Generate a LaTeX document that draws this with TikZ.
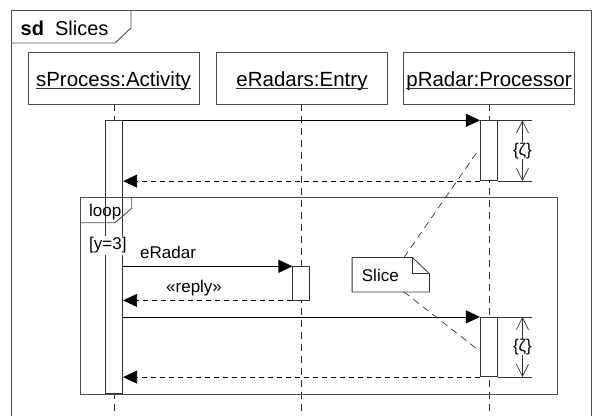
\documentclass[tikz,border=0pt]{standalone}
\usepackage{fontspec}
\setmainfont{Liberation Sans}
\usetikzlibrary{arrows.meta}

\tikzset{
  ink/.style={draw=black!80, line width=0.8pt},
  frame/.style={draw=black!70, line width=0.9pt},
  headbox/.style={frame, rectangle, minimum width=171pt, minimum height=52pt, inner sep=0pt},
  headtxt/.style={font=\fontsize{20.5pt}{24pt}\selectfont, inner sep=0pt, anchor=base},
  lbl/.style={font=\fontsize{17pt}{20pt}\selectfont, inner sep=0pt},
  lifeline/.style={draw=black!80, line width=0.8pt, dash pattern=on 7pt off 5pt},
  actbar/.style={ink, fill=white, rectangle, minimum width=17pt, inner sep=0pt},
  msg/.style={draw=black, line width=0.8pt, -{Triangle[length=14pt, width=13pt]}},
  reply/.style={msg, dash pattern=on 5pt off 4pt},
  notelink/.style={draw=black!80, line width=0.7pt, dash pattern=on 7pt off 5pt},
  span/.style={draw=black!80, line width=0.7pt, {Straight Barb[length=12pt,width=12pt]}-{Straight Barb[length=12pt,width=12pt]}},
  extline/.style={draw=black!80, line width=0.7pt}
}

\begin{document}
\begin{tikzpicture}[x=1pt, y=-1pt]
\useasboundingbox (0,0) rectangle (596,415);

% lifeline heads
\node[headbox] (h1) at (113.5,78) {};
\node[headbox] (h2) at (302,78) {};
\node[headbox] (h3) at (489,78) {};
\node[headtxt] (t1) at (113.5,86.5) {sProcess:Activity};
\node[headtxt] (t2) at (302,86.5) {eRadars:Entry};
\node[headtxt] (t3) at (489,86.5) {pRadar:Processor};
\foreach \t in {t1,t2,t3}
  \draw[black!80, line width=0.8pt] ([yshift=-1.5pt]\t.base west) -- ([yshift=-1.5pt]\t.base east);

% lower ends of the lifelines
\coordinate (e1bot) at (114.2,425);
\coordinate (e2bot) at (301.5,425);
\coordinate (e3bot) at (488.9,425);

% lifelines
\draw[lifeline] (h1.south -| e1bot) -- (e1bot);
\draw[lifeline] (h2.south -| e2bot) -- (e2bot);
\draw[lifeline] (h3.south -| e3bot) -- (e3bot);

% activation bars
\node[actbar, minimum height=272.8pt] (a1) at (114.2,257.1) {};
\node[actbar, minimum height=60pt]    (p1) at (488.85,150.7) {};
\node[actbar, minimum height=33.3pt]  (e1) at (301.35,283.35) {};
\node[actbar, minimum height=59.4pt]  (p2) at (488.85,347) {};

% outer frame
\draw[frame] (11,10) rectangle (591,430);
\draw[frame] (11,43) -- (115,43) -- (131,28) -- (131,10);
\node[inner sep=0pt, anchor=base west, font=\fontsize{20pt}{24pt}\selectfont] (title)
  at (20.5,35.5) {\textbf{sd}\hspace{11pt}Slices};

% loop fragment
\draw[frame] (80,197.3) rectangle (557.7,394);
\draw[frame] (80,222.7) -- (115,222.7) -- (131.7,208.3) -- (131.7,197.3);
\node[lbl, anchor=base west] (loopname) at (89,216) {loop};
\node[lbl, anchor=base west, fill=white, inner sep=1.5pt] (guard) at (87.5,249.5) {[y=3]};

% messages
\draw[msg]   (a1.east |- p1.north) -- (p1.north west);
\draw[reply] (p1.south west) -- (a1.east |- p1.south);
\draw[msg]   (a1.east |- e1.north) -- (e1.north west);
\node[lbl, anchor=base west] (mname) at (140,258) {eRadar};
\draw[reply] (e1.south west) -- (a1.east |- e1.south);
\node[lbl, anchor=base west] (rname) at (166,292) {«reply»};
\draw[msg]   (a1.east |- p2.north) -- (p2.north west);
\draw[reply] (p2.south west) -- (a1.east |- p2.south);

% duration marks
\foreach \b in {p1,p2} {
  \draw[extline] (\b.north east) -- ++(34,0) coordinate (\b top);
  \draw[extline] (\b.south east) -- ++(34,0) coordinate (\b bot);
  \draw[span] ([xshift=-9.3pt]\b top) -- ([xshift=-9.3pt]\b bot)
    node[midway, fill=white, inner sep=0.5pt, font=\fontsize{17pt}{20pt}\selectfont] {\{ζ\}};
}

% note
\node[rectangle, minimum width=77pt, minimum height=34pt, inner sep=0pt] (note) at (390.8,274.7) {};
\draw[ink, fill=white] (note.north west) -- ([xshift=-17pt]note.north east)
  -- ([yshift=-16.3pt]note.north east) -- (note.south east) -- (note.south west) -- cycle;
\draw[ink] ([xshift=-17pt]note.north east) |- ([yshift=-16.3pt]note.north east);
\node[lbl, anchor=base west] (slicetxt) at (361.7,281.5) {Slice};
\draw[notelink] ([xshift=13.2pt]note.north) -- ([xshift=-2pt]p1.west);
\draw[notelink] ([xshift=13.2pt]note.south) -- ([xshift=-1pt, yshift=-3.5pt]p2.west);
\end{tikzpicture}
\end{document}
